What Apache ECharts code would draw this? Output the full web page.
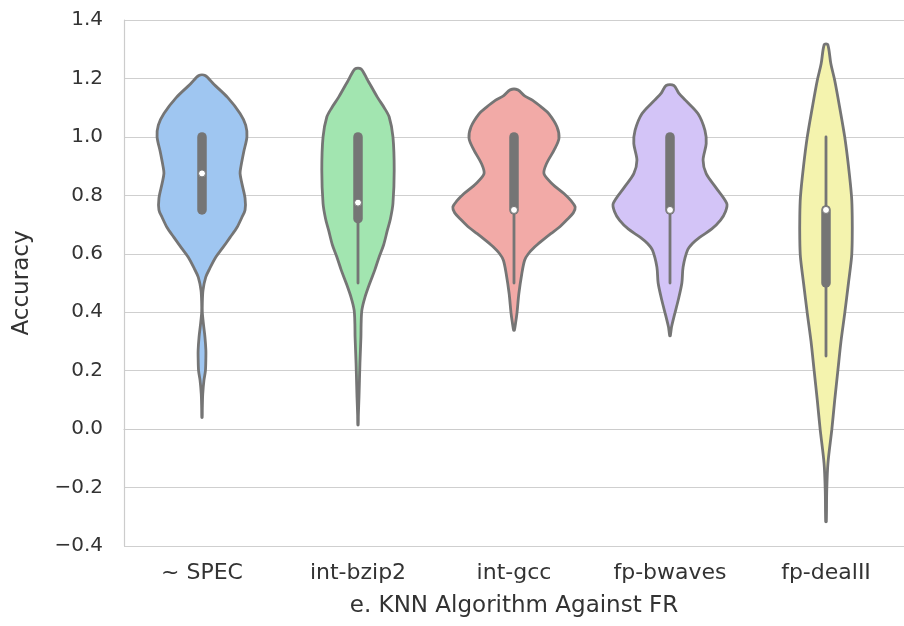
<!DOCTYPE html>
<html>
<head>
<meta charset="utf-8">
<script src="https://cdn.jsdelivr.net/npm/echarts@6/dist/echarts.min.js"></script>
<style>
  html, body { margin: 0; padding: 0; background: #ffffff; }
  #chart { width: 904px; height: 626px; }
</style>
</head>
<body>
<div id="chart"></div>
<script>
// Benchmarks on the x axis
const categories = ['~ SPEC', 'int-bzip2', 'int-gcc', 'fp-bwaves', 'fp-dealII'];

// Y axis ticks
const yMin = -0.4, yMax = 1.4, yStep = 0.2;

// Kernel density profiles: accuracy levels (top to bottom) and relative density (1 = widest violin)
const specAcc  = [1.21, 1.18, 1.135, 1.08, 1.04, 1.0, 0.95, 0.9, 0.875, 0.84, 0.79, 0.75, 0.725, 0.69, 0.656, 0.62, 0.588, 0.55, 0.52, 0.475, 0.43, 0.4, 0.36, 0.316, 0.27, 0.246, 0.2, 0.167, 0.12, 0.07, 0.04];
const specDens = [0.05, 0.19, 0.41, 0.61, 0.70, 0.72, 0.67, 0.625, 0.61, 0.64, 0.69, 0.69, 0.64, 0.56, 0.45, 0.33, 0.22, 0.125, 0.06, 0.016, 0.005, 0.005, 0.023, 0.047, 0.062, 0.062, 0.055, 0.031, 0.012, 0.005, 0.003];

const bzipAcc  = [1.233, 1.2, 1.136, 1.1, 1.068, 1.0, 0.886, 0.772, 0.72, 0.68, 0.63, 0.59, 0.545, 0.5, 0.45, 0.407, 0.36, 0.316, 0.225, 0.11, 0.05, 0.014];
const bzipDens = [0.047, 0.14, 0.31, 0.42, 0.50, 0.56, 0.58, 0.56, 0.52, 0.47, 0.41, 0.34, 0.27, 0.19, 0.11, 0.062, 0.05, 0.047, 0.031, 0.016, 0.006, 0.003];

const gccAcc  = [1.161, 1.14, 1.125, 1.1, 1.079, 1.034, 0.994, 0.954, 0.908, 0.874, 0.84, 0.806, 0.78, 0.76, 0.74, 0.715, 0.69, 0.669, 0.645, 0.623, 0.6, 0.578, 0.532, 0.464, 0.396, 0.36, 0.338];
const gccDens = [0.062, 0.17, 0.30, 0.45, 0.56, 0.69, 0.72, 0.64, 0.52, 0.48, 0.61, 0.80, 0.92, 0.98, 0.95, 0.84, 0.72, 0.59, 0.45, 0.33, 0.23, 0.17, 0.125, 0.078, 0.047, 0.023, 0.005];

const bwavesAcc  = [1.176, 1.15, 1.125, 1.079, 1.022, 0.977, 0.92, 0.874, 0.828, 0.772, 0.745, 0.715, 0.685, 0.657, 0.635, 0.612, 0.555, 0.5, 0.44, 0.39, 0.35, 0.32];
const bwavesDens = [0.062, 0.14, 0.25, 0.45, 0.56, 0.58, 0.53, 0.58, 0.73, 0.91, 0.89, 0.81, 0.67, 0.48, 0.36, 0.28, 0.21, 0.19, 0.13, 0.07, 0.025, 0.005];

const dealAcc  = [1.316, 1.25, 1.193, 1.1, 1.0, 0.9, 0.794, 0.726, 0.65, 0.589, 0.5, 0.396, 0.3, 0.2, 0.1, 0.0, -0.117, -0.21, -0.317];
const dealDens = [0.028, 0.078, 0.14, 0.22, 0.30, 0.36, 0.41, 0.42, 0.42, 0.41, 0.36, 0.30, 0.24, 0.19, 0.14, 0.094, 0.031, 0.012, 0.005];

// Box statistics per benchmark: [lower whisker, Q1, median, Q3, upper whisker]
const specBox   = [0.75, 0.75, 0.875, 1.0, 1.0];
const bzipBox   = [0.5, 0.72, 0.775, 1.0, 1.0];
const gccBox    = [0.5, 0.75, 0.75, 1.0, 1.0];
const bwavesBox = [0.5, 0.75, 0.75, 1.0, 1.0];
const dealBox   = [0.25, 0.5, 0.75, 0.75, 1.0];

const levels = [specAcc, bzipAcc, gccAcc, bwavesAcc, dealAcc];
const densities = [specDens, bzipDens, gccDens, bwavesDens, dealDens];
const boxes = [specBox, bzipBox, gccBox, bwavesBox, dealBox];

const fills = ['#9FC6F1', '#A2E5B0', '#F2AAA7', '#D3C4F7', '#F4F3AE'];
const gray = '#757575';
const textColor = '#333333';
const font = 'DejaVu Sans';

function renderViolin(params, api) {
  const i = params.dataIndex;
  const acc = levels[i], dens = densities[i], st = boxes[i];
  const band = api.size([1, 0])[0];
  const half = band * 0.4;
  const cx = api.coord([i, 0])[0];
  const right = [], left = [];
  for (let k = 0; k < acc.length; k++) {
    const y = api.coord([i, acc[k]])[1];
    right.push([cx + dens[k] * half, y]);
    left.push([cx - dens[k] * half, y]);
  }
  const outline = right.concat(left.reverse());
  const yOf = v => api.coord([i, v])[1];
  return {
    type: 'group',
    children: [
      {
        type: 'polygon',
        shape: { points: outline, smooth: 0.3 },
        style: { fill: fills[i], stroke: gray, lineWidth: 2.8, lineJoin: 'round' }
      },
      {
        type: 'line',
        shape: { x1: cx, y1: yOf(st[0]), x2: cx, y2: yOf(st[4]) },
        style: { stroke: gray, lineWidth: 2.8, lineCap: 'round' }
      },
      {
        type: 'line',
        shape: { x1: cx, y1: yOf(st[1]), x2: cx, y2: yOf(st[3]) },
        style: { stroke: gray, lineWidth: 9.5, lineCap: 'round' }
      },
      {
        type: 'circle',
        shape: { cx: cx, cy: yOf(st[2]), r: 3.5 },
        style: { fill: '#ffffff', stroke: gray, lineWidth: 1 }
      }
    ]
  };
}

const chart = echarts.init(document.getElementById('chart'), null, { renderer: 'canvas' });
chart.setOption({
  backgroundColor: '#ffffff',
  animation: false,
  grid: { left: 124, top: 20, width: 790, height: 526, containLabel: false },
  xAxis: {
    type: 'category',
    data: categories,
    boundaryGap: true,
    name: 'e. KNN Algorithm Against FR',
    nameLocation: 'middle',
    nameGap: 49,
    nameTextStyle: { fontFamily: font, fontSize: 23, color: textColor },
    axisLine: { show: true, lineStyle: { color: '#cccccc', width: 1.2 } },
    axisTick: { show: false },
    axisLabel: { fontFamily: font, fontSize: 22, color: textColor, margin: 16 },
    splitLine: { show: false }
  },
  yAxis: {
    type: 'value',
    min: yMin,
    max: yMax,
    interval: yStep,
    name: 'Accuracy',
    nameLocation: 'middle',
    nameGap: 90,
    nameTextStyle: { fontFamily: font, fontSize: 23, color: textColor },
    axisLine: { show: true, lineStyle: { color: '#cccccc', width: 1.2 } },
    axisTick: { show: false },
    axisLabel: {
      fontFamily: font, fontSize: 20, color: textColor, margin: 21,
      formatter: v => {
        const s = (Math.abs(v) < 1e-9 ? 0 : v).toFixed(1);
        return s.replace('-', '\u2212');
      }
    },
    splitLine: { show: true, lineStyle: { color: '#cfcfcf', width: 1.2 } }
  },
  series: [{
    type: 'custom',
    renderItem: renderViolin,
    data: categories.map((c, i) => [i]),
    encode: { x: 0 },
    clip: false
  }]
});
</script>
</body>
</html>
